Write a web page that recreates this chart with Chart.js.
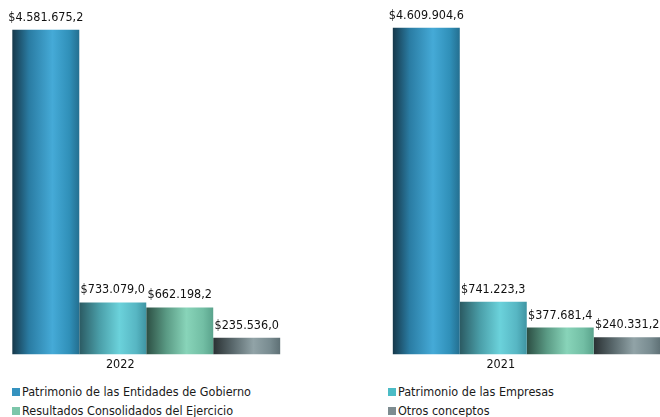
<!DOCTYPE html>
<html><head><meta charset="utf-8">
<script src="https://cdn.jsdelivr.net/npm/chart.js@4"></script>
<style>
html,body{margin:0;padding:0;background:#fff;width:660px;height:417px;overflow:hidden;font-family:"DejaVu Sans Condensed","Liberation Sans",Arial,sans-serif;}
#wrap{position:absolute;left:0;top:0;width:660px;height:376px;overflow:hidden;}
#inner{position:absolute;left:-44px;top:0;width:761px;height:376px;}
#legend{position:absolute;left:12px;top:382px;display:grid;grid-template-columns:376px auto;}
.item{display:flex;align-items:center;height:19px;font-size:12.5px;color:#1a1a1a;white-space:nowrap;}
.sw{width:8px;height:8px;margin-right:2px;flex:none;}
</style>
</head><body>
<div id="wrap"><div id="inner"><canvas id="c"></canvas></div></div>
<div id="legend"></div>
<script>
const years = ["2022", "2021"];
const seriesNames = [
  "Patrimonio de las Entidades de Gobierno",
  "Patrimonio de las Empresas",
  "Resultados Consolidados del Ejercicio",
  "Otros conceptos"
];
const entidades = [4581675.2, 4609904.6];
const empresas = [733079.0, 741223.3];
const resultados = [662198.2, 377681.4];
const otros = [235536.0, 240331.2];

const FONT = "'DejaVu Sans Condensed', 'Liberation Sans', Arial, sans-serif";
const legendColors = ["#3592bf", "#4cbcc6", "#7cc6aa", "#7d8c90"];
const gradientStops = [
  [[0,"#16384a"],[0.25,"#2a7ca3"],[0.6,"#45aad7"],[0.85,"#3090b9"],[1,"#246f90"]],
  [[0,"#2b5a62"],[0.3,"#4a9ea8"],[0.6,"#6bd2db"],[0.85,"#57b6c3"],[1,"#3f95a3"]],
  [[0,"#2c4e43"],[0.3,"#5a9a84"],[0.6,"#88d4b9"],[0.85,"#72bea4"],[1,"#5aa38c"]],
  [[0,"#2a3133"],[0.3,"#5b6a6e"],[0.6,"#91a3a7"],[0.85,"#788b90"],[1,"#5e7075"]]
];
const seriesValues = [entidades, empresas, resultados, otros];

function fmt(v){
  const parts = v.toFixed(1).split(".");
  const intPart = parts[0].replace(/\B(?=(\d{3})+(?!\d))/g, ".");
  return "$" + intPart + "," + parts[1];
}

const gradientPlugin = {
  id: "gradBars",
  beforeDatasetsDraw(chart){
    const ctx = chart.ctx;
    chart.data.datasets.forEach((ds, di) => {
      const meta = chart.getDatasetMeta(di);
      meta.data.forEach(el => {
        const l = el.x - el.width/2, r = el.x + el.width/2;
        const g = ctx.createLinearGradient(l, 0, r, 0);
        gradientStops[di].forEach(s => g.addColorStop(s[0], s[1]));
        el.options = Object.assign({}, el.options, {backgroundColor: g});
      });
    });
  },
  afterDatasetsDraw(chart){
    const ctx = chart.ctx;
    ctx.save();
    ctx.font = "12.5px " + FONT;
    ctx.fillStyle = "#111";
    ctx.textAlign = "center";
    ctx.textBaseline = "alphabetic";
    chart.data.datasets.forEach((ds, di) => {
      const meta = chart.getDatasetMeta(di);
      meta.data.forEach((el, i) => {
        ctx.fillText(fmt(ds.data[i]), el.x, el.y - 9);
      });
    });
    ctx.restore();
  }
};

new Chart(document.getElementById("c"), {
  type: "bar",
  data: {
    labels: years,
    datasets: seriesNames.map((n, i) => ({
      label: n,
      data: seriesValues[i],
      backgroundColor: legendColors[i],
      borderWidth: 0,
      categoryPercentage: 0.704,
      barPercentage: 1.0
    }))
  },
  options: {
    responsive: true,
    maintainAspectRatio: false,
    animation: false,
    layout: {padding: 0},
    plugins: {legend: {display: false}, tooltip: {enabled: false}},
    scales: {
      x: {
        grid: {display: false, drawTicks: false},
        border: {display: false},
        ticks: {color: "#111", font: {family: FONT, size: 12.5, lineHeight: 1.25}, padding: 3, labelOffset: -26, maxRotation: 0}
      },
      y: {display: false, min: 0, max: 5000000}
    }
  },
  plugins: [gradientPlugin]
});

const lg = document.getElementById("legend");
[0, 1, 2, 3].forEach(i => {
  const d = document.createElement("div");
  d.className = "item";
  const s = document.createElement("span");
  s.className = "sw";
  s.style.background = legendColors[i];
  const t = document.createElement("span");
  t.textContent = seriesNames[i];
  d.appendChild(s); d.appendChild(t);
  lg.appendChild(d);
});
</script>
</body></html>
